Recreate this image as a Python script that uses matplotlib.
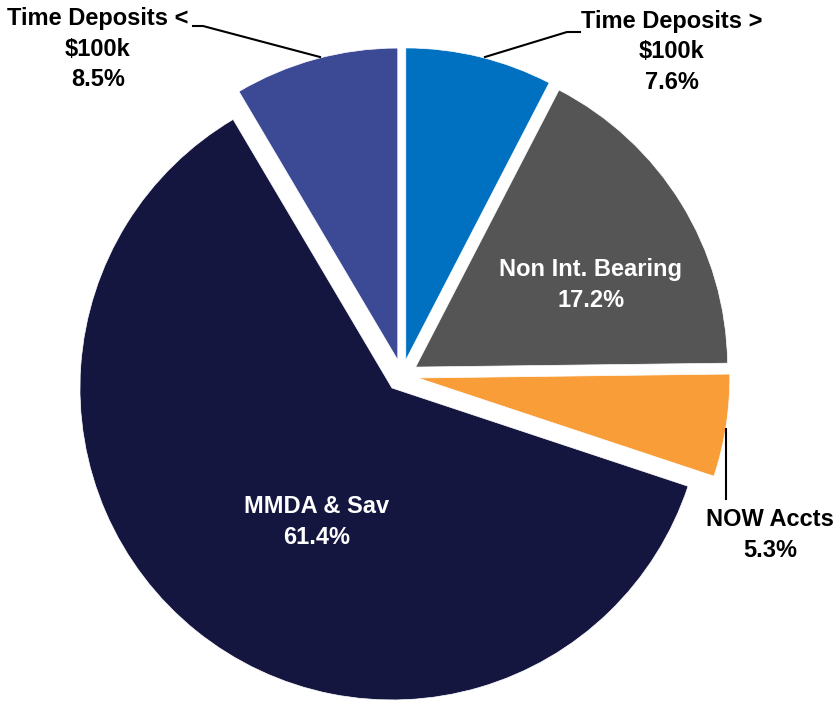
import matplotlib
matplotlib.use("Agg")
import matplotlib.pyplot as plt

# deposit mix, clockwise from 12 o'clock
categories = ["Time Deposits >\n$100k", "Non Int. Bearing", "NOW Accts",
              "MMDA & Sav", "Time Deposits <\n$100k"]
shares = [7.6, 17.2, 5.3, 61.4, 8.5]
colors = ["#0070C0", "#545554", "#F89D38", "#141640", "#3C4A96"]

W, H = 837, 701
FONT = ["Liberation Sans Narrow", "Liberation Sans", "DejaVu Sans"]

fig = plt.figure(figsize=(W / 100, H / 100), dpi=100)
ax = fig.add_axes([0, 0, 1, 1])


def px(x, y):
    # image pixel -> data coords
    return x, H - y


ax.pie(shares, colors=colors, startangle=90, counterclock=False,
       center=px(402, 375.5), radius=312, explode=[16] * len(shares),
       wedgeprops=dict(edgecolor="white", linewidth=0.5), frame=True)
ax.set_xlim(0, W)
ax.set_ylim(0, H)
ax.set_aspect("equal")
ax.axis("off")

txt = dict(fontsize=17, fontweight="bold", family=FONT, ha="center",
           va="center", linespacing=1.4)

# inside labels
ax.text(*px(591, 285), f"{categories[1]}\n{shares[1]}%", color="white", **txt)
ax.text(*px(317, 522), f"{categories[3]}\n{shares[3]}%", color="white", **txt)

# outside labels with leader lines
ax.text(*px(98, 49), f"{categories[4]}\n{shares[4]}%", color="black", **txt)
ax.text(*px(672, 52), f"{categories[0]}\n{shares[0]}%", color="black", **txt)
ax.text(*px(770, 535), f"{categories[2]}\n{shares[2]}%", color="black", **txt)

leaders = [
    [(193, 26), (203, 26), (320, 57)],
    [(580, 32), (567, 32), (485, 57)],
    [(726, 429), (726, 499)],
]
for pts in leaders:
    xs, ys = zip(*[px(x, y) for x, y in pts])
    ax.plot(xs, ys, color="black", lw=1.5)

fig.savefig("out.png", dpi=100)
